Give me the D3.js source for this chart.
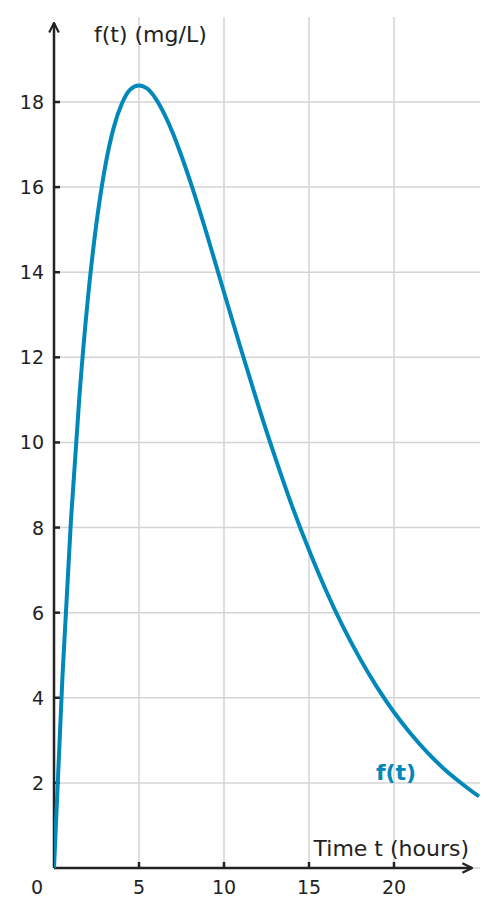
<!DOCTYPE html>
<html>
<head>
<meta charset="utf-8">
<script src="https://cdn.jsdelivr.net/npm/d3@7"></script>
<style>
  body { margin: 0; background: #fff; }
  text { font-family: "DejaVu Sans", sans-serif; }
</style>
</head>
<body>
<svg width="497" height="917"></svg>
<script>
// values (hours, mg/L)
var times = [0, 0.5, 1, 1.5, 2, 2.5, 3, 3.5, 4, 4.5, 5, 5.5, 6, 6.5, 7, 7.5, 8, 9, 10, 11, 12, 13, 14, 15, 16, 17, 18, 19, 20, 21, 22, 23, 24, 25];
var conc  = [0, 4.52, 8.19, 11.11, 13.41, 15.16, 16.46, 17.38, 17.97, 18.30, 18.39, 18.31, 18.07, 17.71, 17.26, 16.73, 16.15, 14.88, 13.53, 12.19, 10.89, 9.66, 8.51, 7.47, 6.52, 5.67, 4.92, 4.25, 3.66, 3.15, 2.70, 2.31, 1.98, 1.68];
var xTicks = [5, 10, 15, 20];
var yTicks = [2, 4, 6, 8, 10, 12, 14, 16, 18];

var svg = d3.select("svg");
var ink = "#222", grid = "#d4d4d4", blue = "#0088bb";

var x = d3.scaleLinear().domain([0, 25.06]).range([54, 480]);
var y = d3.scaleLinear().domain([0, 18]).range([868, 102]);

var data = times.map(function(t, i) { return {t: t, v: conc[i]}; });

// grid
svg.append("g").selectAll("line").data(xTicks).enter().append("line")
    .attr("x1", function(d) { return x(d); }).attr("x2", function(d) { return x(d); })
    .attr("y1", 17).attr("y2", 868)
    .attr("stroke", grid).attr("stroke-width", 1.5);
svg.append("g").selectAll("line").data(yTicks.concat([0])).enter().append("line")
    .attr("x1", 54).attr("x2", 480)
    .attr("y1", function(d) { return y(d); }).attr("y2", function(d) { return y(d); })
    .attr("stroke", grid).attr("stroke-width", 1.5);

// arrow marker
var defs = svg.append("defs");
defs.append("marker").attr("id", "arr")
    .attr("viewBox", "0 0 10 10").attr("refX", 9).attr("refY", 5)
    .attr("markerWidth", 12).attr("markerHeight", 12).attr("markerUnits", "userSpaceOnUse")
    .attr("orient", "auto")
  .append("path").attr("d", "M1,1 L9,5 L1,9")
    .attr("fill", "none").attr("stroke", ink).attr("stroke-width", 1.8);

// axes
svg.append("line").attr("x1", 54).attr("y1", 868).attr("x2", 54).attr("y2", 23)
    .attr("stroke", ink).attr("stroke-width", 2.5).attr("marker-end", "url(#arr)");
svg.append("line").attr("x1", 54).attr("y1", 868).attr("x2", 472).attr("y2", 868)
    .attr("stroke", ink).attr("stroke-width", 2.5).attr("marker-end", "url(#arr)");

// ticks
svg.append("g").selectAll("line").data(yTicks).enter().append("line")
    .attr("x1", 54).attr("x2", 60)
    .attr("y1", function(d) { return y(d); }).attr("y2", function(d) { return y(d); })
    .attr("stroke", ink).attr("stroke-width", 2.5);
svg.append("g").selectAll("line").data(xTicks).enter().append("line")
    .attr("x1", function(d) { return x(d); }).attr("x2", function(d) { return x(d); })
    .attr("y1", 868).attr("y2", 862)
    .attr("stroke", ink).attr("stroke-width", 2.5);

// tick labels
svg.append("g").selectAll("text").data(yTicks).enter().append("text")
    .attr("x", 44).attr("y", function(d) { return y(d) + 7; })
    .attr("text-anchor", "end").attr("font-size", 19).attr("fill", ink)
    .text(function(d) { return d; });
svg.append("g").selectAll("text").data(xTicks).enter().append("text")
    .attr("x", function(d) { return x(d); }).attr("y", 894)
    .attr("text-anchor", "middle").attr("font-size", 19).attr("fill", ink)
    .text(function(d) { return d; });
svg.append("text").attr("x", 37).attr("y", 894).attr("text-anchor", "middle")
    .attr("font-size", 19).attr("fill", ink).text("0");

// axis titles
svg.append("text").attr("x", 94).attr("y", 42).attr("font-size", 22).attr("fill", ink)
    .text("f(t) (mg/L)");
svg.append("text").attr("x", 469).attr("y", 856).attr("text-anchor", "end")
    .attr("font-size", 22).attr("fill", ink).text("Time t (hours)");

// curve
defs.append("clipPath").attr("id", "clip").append("rect")
    .attr("x", 54).attr("y", 0).attr("width", 426).attr("height", 917);
var line = d3.line()
    .x(function(d) { return x(d.t); })
    .y(function(d) { return y(d.v); })
    .curve(d3.curveMonotoneX);
svg.append("path").datum(data)
    .attr("clip-path", "url(#clip)")
    .attr("d", line)
    .attr("fill", "none").attr("stroke", blue).attr("stroke-width", 4);

svg.append("text").attr("x", 396).attr("y", 780).attr("text-anchor", "middle")
    .attr("font-size", 22).attr("font-weight", "bold").attr("fill", blue).text("f(t)");
</script>
</body>
</html>
